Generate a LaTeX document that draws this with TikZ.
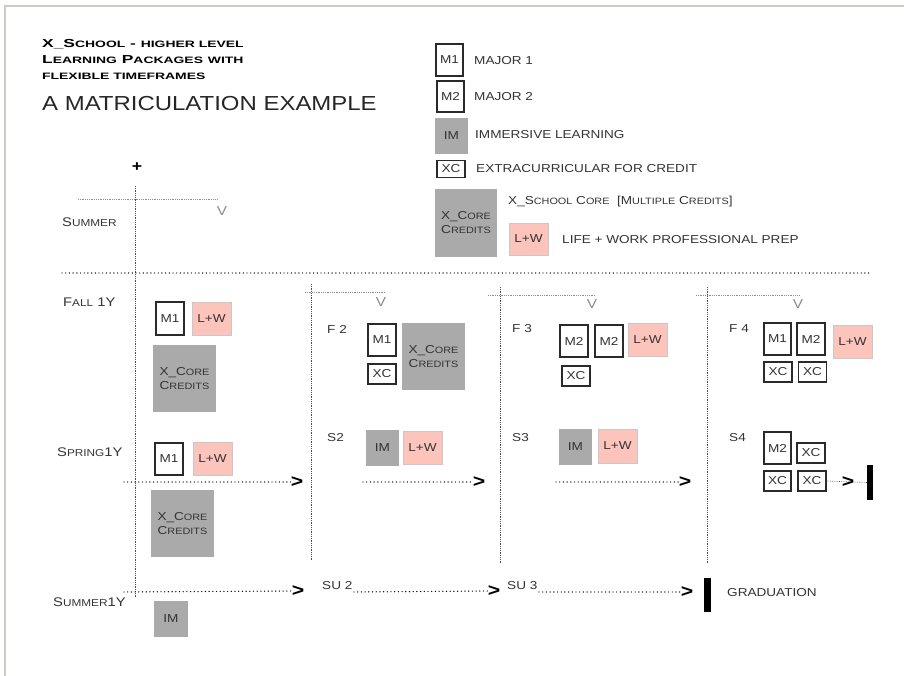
\documentclass[tikz,border=0pt]{standalone}
\usepackage{fontspec}
\setmainfont{Liberation Sans}
\newfontfamily\wf[FakeStretch=1.18]{Liberation Sans}
\newfontfamily\tf[FakeStretch=1.5]{Liberation Sans}
\definecolor{txt}{HTML}{333333}
\definecolor{grayf}{HTML}{AAAAAA}
\definecolor{pinkf}{HTML}{FDC4BC}
\definecolor{pinkline}{HTML}{C8C8C8}
\definecolor{boxline}{HTML}{2A2A2A}
\definecolor{frame}{HTML}{CFCAC5}
\definecolor{vgray}{HTML}{8A8A8A}
\makeatletter
\newcommand\smc[1]{{\fontsize{\fpeval{0.8*\f@size}}{\f@baselineskip}\selectfont #1}}
\makeatother
\tikzset{
  lab/.style={font=\wf\fontsize{11.5}{14}\selectfont, text=txt, inner sep=0, anchor=west},
  rowlab/.style={font=\wf\fontsize{12.5}{14}\selectfont, text=txt, inner sep=0, anchor=west},
  sz/.style 2 args={minimum width=#1pt, minimum height=#2pt},
  wbox/.style={draw=boxline, line width=1.1pt, fill=white, inner sep=0, font=\wf\fontsize{11.5}{14}\selectfont, text=txt},
  gbox/.style={fill=grayf, inner sep=0, font=\wf\fontsize{11.5}{14}\selectfont, text=txt, align=center},
  pbox/.style={fill=pinkf, draw=pinkline, line width=0.8pt, inner sep=0, font=\wf\fontsize{11.5}{14}\selectfont, text=txt},
  vmark/.style={font=\wf\fontsize{13}{14}\selectfont, text=vgray, inner sep=0},
  chev/.style={font=\wf\bfseries\fontsize{18}{18}\selectfont, text=black, inner sep=0},
  bar/.style={fill=black, inner sep=0},
  bigdot/.style={line width=1.4pt, line cap=round, dash pattern=on 0pt off 3.7pt, black},
  finedot/.style={line width=0.6pt, dash pattern=on 0.7pt off 1.1pt, black!70},
  hairdot/.style={line width=0.6pt, dash pattern=on 0.7pt off 1.1pt, black!45},
  ttl/.style={font=\tf\bfseries\fontsize{11.6}{14}\selectfont, text=black, inner sep=0, anchor=base west},
}
\begin{document}
\begin{tikzpicture}[x=1pt,y=-1pt]
\useasboundingbox (0,0) rectangle (904,676);
% frame
\draw[frame, line width=2pt] (5,676) -- (5,6.5) -- (904,6.5);

% title
\node[ttl] (t1) at (42,48) {X\_S\smc{CHOOL} - \smc{HIGHER LEVEL}};
\node[ttl] (t2) at (42,64) {L\smc{EARNING} P\smc{ACKAGES} \smc{WITH}};
\node[ttl] (t3) at (42,80) {\smc{FLEXIBLE TIMEFRAMES}};
\node[font=\wf\fontsize{20.3}{22}\selectfont, text=black!85, inner sep=0, anchor=base west] (t4) at (42,110.5) {A MATRICULATION EXAMPLE};

% legend
\node[wbox, sz={27}{32}] (lm1) at (449.5,60) {M1};
\node[lab] (lm1t) at (474,61) {MAJOR 1};
\node[wbox, sz={27}{31}] (lm2) at (450.5,96.5) {M2};
\node[lab] (lm2t) at (474,97) {MAJOR 2};
\node[gbox, sz={33}{36}] (lim) at (451.5,136) {IM};
\node[lab] (limt) at (475,135) {IMMERSIVE LEARNING};
\node[wbox, sz={28}{17}] (lxc) at (451,169) {XC};
\node[lab] (lxct) at (476,169) {EXTRACURRICULAR FOR CREDIT};
\node[gbox, sz={62}{68}] (lcore) at (466,223) {X\_C\smc{ORE}\\C\smc{REDITS}};
\node[lab] (lcoret) at (508,202) {X\_S\smc{CHOOL} C\smc{ORE}\ \ [M\smc{ULTIPLE} C\smc{REDITS}]};
\node[pbox, sz={39}{32}] (llw) at (528.5,239) {L+W};
\node[lab] (llwt) at (562,240) {LIFE + WORK PROFESSIONAL PREP};

% start marker and axes
\node[font=\wf\bfseries\fontsize{15}{15}\selectfont, inner sep=0] (plus) at (137,167) {+};
\coordinate (vtop1) at (135,186);
\coordinate (vbot1) at (135,598);
\draw[finedot] (vtop1) -- (vbot1);
\coordinate (h0a) at (78,199);
\coordinate (h0b) at (218,199);
\draw[hairdot] (h0a) -- (h0b);
\node[vmark] (v0) at (222,211) {V};
\node[rowlab] (summer) at (62,222) {S\smc{UMMER}};
\coordinate (ha) at (62,273);
\coordinate (hb) at (872,273);
\draw[bigdot] (ha) -- (hb);

% column 1
\node[rowlab] (fall1) at (63,302) {F\smc{ALL} 1Y};
\node[wbox, sz={28}{33}] (f1m1) at (170,318.5) {M1};
\node[pbox, sz={39}{33}] (f1lw) at (211.5,318.5) {L+W};
\node[gbox, sz={63}{67}] (f1core) at (184.5,378.5) {X\_C\smc{ORE}\\C\smc{REDITS}};
\node[rowlab] (spring1) at (57,452) {S\smc{PRING}1Y};
\node[wbox, sz={28}{32}] (s1m1) at (169,459) {M1};
\node[pbox, sz={39}{33}] (s1lw) at (212.5,458.5) {L+W};
\coordinate (a1s) at (124,482);
\node[chev] (c1) at (297,482) {>};
\draw[bigdot] (a1s) -- (c1.west);
\node[gbox, sz={63}{67}] (s1core) at (182.5,523.5) {X\_C\smc{ORE}\\C\smc{REDITS}};
\node[rowlab] (summer1) at (53,602) {S\smc{UMMER}1Y};
\coordinate (u1s) at (124,592);
\node[chev] (cu1) at (298,591) {>};
\draw[bigdot] (u1s) -- (cu1.west);
\node[gbox, sz={34}{36}] (u1im) at (171,619) {IM};

% column 2
\coordinate (vtop2) at (311,284);
\coordinate (vbot2) at (311,560);
\draw[finedot] (vtop2) -- (vbot2);
\coordinate (h2a) at (305,292);
\coordinate (h2b) at (385,292);
\draw[hairdot] (h2a) -- (h2b);
\node[vmark] (v2) at (381,302) {V};
\node[lab] (f2) at (327,329) {F 2};
\node[wbox, sz={28}{32}] (f2m1) at (382,340) {M1};
\node[wbox, sz={28}{20}] (f2xc) at (382,374) {XC};
\node[gbox, sz={63}{67}] (f2core) at (433.5,356.5) {X\_C\smc{ORE}\\C\smc{REDITS}};
\node[lab] (s2) at (327,438) {S2};
\node[gbox, sz={33}{36}] (s2im) at (382.5,448) {IM};
\node[pbox, sz={39}{33}] (s2lw) at (422.5,447.5) {L+W};
\coordinate (a2s) at (363,482);
\node[chev] (c2) at (479,482) {>};
\draw[bigdot] (a2s) -- (c2.west);

% column 3
\coordinate (vtop3) at (500,287);
\coordinate (vbot3) at (500,563);
\draw[finedot] (vtop3) -- (vbot3);
\coordinate (h3a) at (488,295);
\coordinate (h3b) at (595,295);
\draw[hairdot] (h3a) -- (h3b);
\node[vmark] (v3) at (592,304) {V};
\node[lab] (f3) at (512,329) {F 3};
\node[wbox, sz={28}{32}] (f3m2a) at (574,341) {M2};
\node[wbox, sz={28}{32}] (f3m2b) at (609,341) {M2};
\node[pbox, sz={39}{33}] (f3lw) at (647.5,339.5) {L+W};
\node[wbox, sz={28}{20}] (f3xc) at (576,376) {XC};
\node[lab] (s3) at (512,438) {S3};
\node[gbox, sz={33}{36}] (s3im) at (575.5,447) {IM};
\node[pbox, sz={39}{34}] (s3lw) at (617.5,446) {L+W};
\coordinate (a3s) at (556,482);
\node[chev] (c3) at (685,482) {>};
\draw[bigdot] (a3s) -- (c3.west);

% column 4
\coordinate (vtop4) at (707,287);
\coordinate (vbot4) at (707,563);
\draw[finedot] (vtop4) -- (vbot4);
\coordinate (h4a) at (696,295);
\coordinate (h4b) at (800,295);
\draw[hairdot] (h4a) -- (h4b);
\node[vmark] (v4) at (798,304) {V};
\node[lab] (f4) at (729,329) {F 4};
\node[wbox, sz={27}{32}] (f4m1) at (777.5,339) {M1};
\node[wbox, sz={28}{32}] (f4m2) at (811,339) {M2};
\node[pbox, sz={39}{33}] (f4lw) at (852.5,341.5) {L+W};
\node[wbox, sz={28}{20}] (f4xc1) at (778,372) {XC};
\node[wbox, sz={28}{20}] (f4xc2) at (812.5,372) {XC};
\node[lab] (s4) at (729,438) {S4};
\node[wbox, sz={27}{32}] (s4m2) at (777.5,448) {M2};
\node[wbox, sz={28}{20}] (s4xc1) at (811,453) {XC};
\node[wbox, sz={27}{20}] (s4xc2) at (777.5,481) {XC};
\node[wbox, sz={28}{20}] (s4xc3) at (812,481) {XC};
\node[chev] (c4) at (848,482) {>};
\node[bar, sz={6}{35}] (end4) at (870,482.5) {};
\draw[finedot] (s4xc3.east) -- (end4.west);

% bottom row
\node[lab] (su2) at (322,586) {SU 2};
\node[chev] (cu2) at (494,591) {>};
\coordinate (u2s) at (354,592);
\draw[bigdot] (u2s) -- (cu2.west);
\node[lab] (su3) at (507,586) {SU 3};
\node[chev] (cu3) at (687,592) {>};
\coordinate (u3s) at (539,592);
\draw[bigdot] (u3s) -- (cu3.west);
\node[bar, sz={7}{34}] (grad) at (707.5,595) {};
\node[lab] (gradt) at (727,593) {GRADUATION};
\end{tikzpicture}
\end{document}
